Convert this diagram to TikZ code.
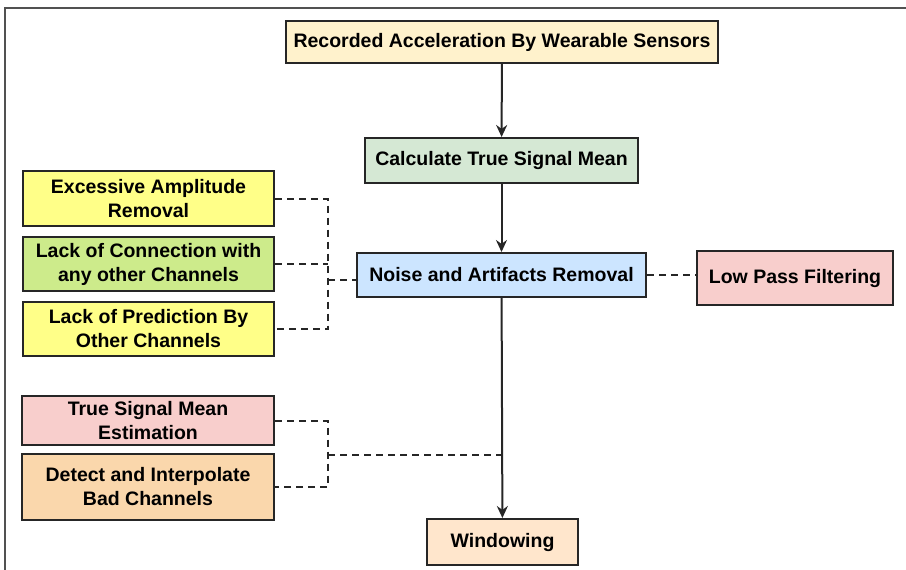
\documentclass[tikz,border=0pt]{standalone}
\usepackage{fontspec}
\setmainfont{Liberation Sans}
\usetikzlibrary{arrows.meta}
\definecolor{edge}{HTML}{262626}
\definecolor{cream}{HTML}{FFF2CC}
\definecolor{mint}{HTML}{D5E8D4}
\definecolor{skyblue}{HTML}{CCE5FF}
\definecolor{rose}{HTML}{F8CECC}
\definecolor{lemon}{HTML}{FFFF88}
\definecolor{lime}{HTML}{CDEB8B}
\definecolor{apricot}{HTML}{FAD7AC}
\definecolor{peach}{HTML}{FFE6CC}
\tikzset{
  box/.style={draw=edge, line width=2pt, align=center, inner sep=2pt,
    font=\fontsize{19.5}{24}\selectfont\bfseries, text=black},
  flow/.style={draw=edge, line width=2pt, -{Stealth[length=12pt,width=11pt]}},
  dashline/.style={draw=edge, line width=2pt, dash pattern=on 7pt off 5pt}
}
\begin{document}
\begin{tikzpicture}[x=1pt,y=-1pt]
\useasboundingbox (0,0) rectangle (906,570);
% outer frame (left and top edges)
\draw[line width=2.2pt, edge!80] (5,572) -- (5,8) -- (908,8);

% main chain
\node[box, fill=cream, minimum width=432pt, minimum height=42pt] (rec) at (502,42) {Recorded Acceleration By Wearable Sensors};
\node[box, fill=mint, minimum width=273pt, minimum height=45pt] (calc) at (501.5,160.5) {Calculate True Signal Mean};
\node[box, fill=skyblue, minimum width=289pt, minimum height=44pt] (noise) at (501.5,275) {Noise and Artifacts Removal};
\node[box, fill=rose, minimum width=196pt, minimum height=54pt] (lpf) at (795,278) {Low Pass Filtering};
\node[box, fill=peach, minimum width=151pt, minimum height=46pt] (win) at (502.5,542) {Windowing};

% noise criteria
\node[box, fill=lemon, minimum width=251pt, minimum height=55pt] (exc) at (148.5,198.5) {Excessive Amplitude\\Removal};
\node[box, fill=lime, minimum width=251pt, minimum height=54pt] (conn) at (148.5,264) {Lack of Connection with\\any other Channels};
\node[box, fill=lemon, minimum width=251pt, minimum height=54pt] (pred) at (148.5,329) {Lack of Prediction By\\Other Channels};

% channel handling
\node[box, fill=rose, minimum width=252pt, minimum height=49pt] (tsme) at (148,420.5) {True Signal Mean\\Estimation};
\node[box, fill=apricot, minimum width=252pt, minimum height=66pt] (det) at (148,486.5) {Detect and Interpolate\\Bad Channels};

% solid arrows
\draw[flow] (rec) -- (calc);
\draw[flow] (calc) -- (noise);
\draw[flow] (noise) -- (win);

% dashed brackets
\coordinate (b1) at (328,280);
\draw[dashline] (exc.east) -| (b1) |- (pred.east);
\draw[dashline] (conn.east) -- (conn.east -| b1);
\draw[dashline] (b1) -- (b1 -| noise.west);
\draw[dashline] (noise.east) -- (lpf.west |- noise.east);

\coordinate (b2) at (328,455);
\draw[dashline] (tsme.east) -| (b2) |- (det.east);
\draw[dashline] (b2) -- (b2 -| noise.south);
\end{tikzpicture}
\end{document}
